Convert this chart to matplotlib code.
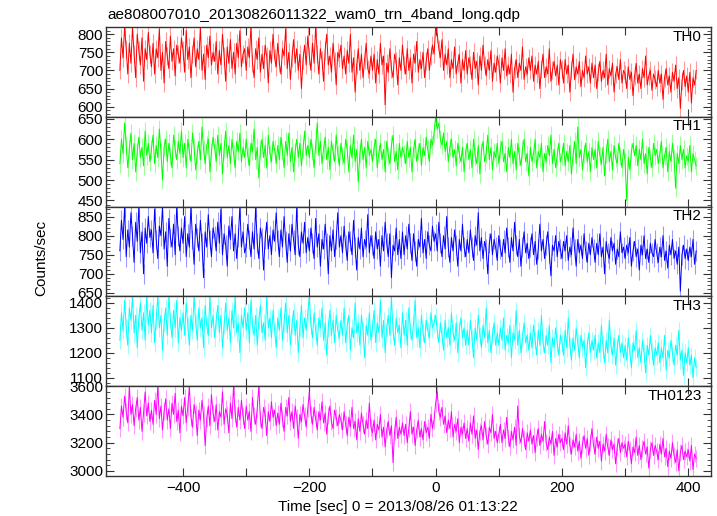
import numpy as np
import matplotlib.pyplot as plt
from matplotlib.ticker import MultipleLocator, AutoMinorLocator

plt.rcParams["font.family"] = ["Liberation Sans", "DejaVu Sans"]

# 2.5 s bins, -500 .. 412.5 s
time = np.arange(-500, 413, 2.5)

th0 = [
    700, 790, 735, 820, 760, 690, 775, 720, 820, 745, 680, 800, 755, 715, 790, 670, 760, 730, 805, 745,
    710, 775, 690, 760, 735, 815, 700, 750, 665, 780, 740, 705, 795, 725, 760, 685, 770, 745, 720, 790,
    755, 695, 810, 730, 765, 680, 745, 790, 710, 760, 730, 820, 700, 745, 675, 770, 735, 795, 715, 750,
    725, 780, 690, 755, 715, 800, 740, 670, 765, 720, 785, 705, 750, 690, 775, 735, 810, 710, 745, 760,
    700, 765, 735, 820, 720, 680, 760, 730, 790, 695, 745, 705, 770, 740, 665, 755, 720, 800, 735, 710,
    775, 720, 690, 760, 740, 815, 705, 750, 675, 735, 785, 720, 760, 700, 745, 650, 730, 770, 715, 795,
    740, 700, 775, 720, 820, 745, 690, 760, 730, 670, 755, 800, 715, 740, 695, 775, 725, 660, 750, 735,
    770, 705, 740, 690, 755, 720, 800, 695, 735, 640, 715, 760, 700, 745, 680, 730, 775, 705, 690, 740,
    700, 745, 665, 730, 690, 775, 715, 740, 605, 720, 695, 760, 705, 680, 745, 725, 660, 735, 700, 770,
    715, 690, 760, 700, 735, 665, 745, 720, 780, 695, 730, 705, 750, 680, 725, 760, 700, 740, 770, 745,
    820, 800, 760, 735, 785, 700, 745, 715, 760, 680, 730, 705, 765, 690, 720, 745, 665, 730, 700, 755,
    690, 735, 715, 675, 750, 705, 725, 660, 740, 700, 770, 715, 685, 730, 700, 755, 670, 720, 695, 740,
    720, 665, 735, 700, 760, 685, 715, 690, 745, 640, 705, 730, 680, 720, 700, 765, 675, 710, 690, 735,
    700, 740, 670, 715, 690, 725, 650, 705, 745, 680, 710, 690, 760, 670, 700, 725, 685, 715, 660, 730,
    705, 665, 730, 690, 715, 640, 700, 745, 675, 710, 690, 725, 655, 700, 680, 740, 690, 710, 665, 720,
    680, 715, 650, 695, 725, 670, 700, 680, 745, 660, 705, 685, 720, 640, 690, 710, 675, 730, 665, 700,
    690, 650, 710, 675, 695, 630, 685, 720, 665, 690, 650, 705, 680, 740, 660, 685, 700, 645, 690, 675,
    655, 700, 665, 690, 620, 680, 705, 660, 685, 640, 695, 670, 715, 650, 680, 595, 670, 700, 655, 685,
    640, 695, 610, 680, 660, 700,
]
th1 = [
    540, 600, 565, 640, 585, 530, 575, 615, 550, 590, 520, 570, 605, 555, 580, 535, 620, 560, 590, 545,
    575, 610, 540, 585, 555, 625, 570, 500, 580, 600, 545, 590, 560, 530, 610, 575, 550, 595, 565, 620,
    555, 590, 530, 600, 570, 545, 615, 580, 525, 565, 595, 550, 630, 575, 540, 585, 600, 520, 570, 605,
    580, 545, 610, 560, 590, 515, 575, 620, 555, 585, 540, 600, 565, 530, 595, 570, 615, 545, 580, 555,
    600, 560, 535, 590, 570, 625, 550, 580, 505, 575, 600, 555, 585, 530, 610, 565, 545, 595, 575, 540,
    585, 550, 605, 570, 530, 595, 560, 615, 545, 580, 520, 570, 600, 555, 590, 535, 575, 620, 560, 585,
    555, 600, 570, 530, 585, 640, 560, 595, 540, 575, 605, 550, 580, 525, 595, 570, 545, 610, 565, 535,
    590, 560, 540, 600, 575, 520, 585, 555, 610, 545, 575, 495, 565, 600, 550, 580, 530, 595, 560, 575,
    545, 580, 600, 530, 565, 590, 550, 575, 520, 595, 560, 540, 585, 610, 545, 570, 525, 590, 555, 580,
    565, 540, 595, 555, 580, 520, 575, 600, 545, 570, 590, 535, 580, 560, 605, 575, 545, 600, 585, 615,
    655, 625, 640, 600, 585, 615, 570, 595, 545, 580, 600, 555, 575, 535, 590, 565, 545, 580, 520, 570,
    590, 550, 575, 530, 600, 560, 540, 585, 515, 570, 595, 545, 565, 610, 550, 580, 525, 570, 555, 590,
    540, 575, 595, 545, 565, 520, 580, 555, 600, 540, 570, 525, 590, 560, 535, 575, 600, 545, 565, 510,
    580, 545, 565, 600, 530, 570, 555, 590, 520, 565, 545, 585, 560, 610, 540, 575, 530, 560, 590, 545,
    560, 590, 535, 570, 545, 585, 515, 560, 595, 540, 630, 555, 575, 525, 565, 590, 545, 570, 520, 580,
    550, 575, 530, 595, 560, 540, 580, 510, 565, 600, 545, 570, 525, 585, 555, 540, 590, 560, 530, 575,
    545, 450, 555, 525, 570, 590, 560, 585, 535, 575, 550, 600, 540, 565, 515, 580, 555, 530, 590, 560,
    575, 540, 565, 595, 530, 560, 580, 520, 570, 545, 590, 555, 480, 565, 540, 585, 550, 575, 530, 560,
    545, 585, 520, 565, 550, 535,
]
th2 = [
    760, 840, 790, 876, 745, 815, 770, 860, 800, 730, 835, 785, 876, 755, 810, 700, 820, 780, 850, 795,
    815, 755, 870, 790, 740, 825, 800, 876, 765, 810, 720, 845, 795, 770, 830, 750, 876, 800, 760, 820,
    780, 850, 745, 805, 770, 876, 790, 725, 830, 795, 760, 840, 780, 690, 810, 770, 855, 790, 745, 820,
    800, 760, 835, 780, 870, 750, 805, 775, 720, 825, 790, 850, 760, 805, 740, 795, 876, 770, 810, 755,
    770, 830, 790, 745, 810, 765, 876, 780, 740, 820, 795, 710, 790, 835, 765, 800, 750, 815, 785, 860,
    790, 745, 815, 770, 850, 785, 730, 805, 760, 830, 790, 750, 876, 775, 745, 810, 780, 835, 755, 795,
    760, 820, 780, 740, 845, 770, 805, 720, 790, 765, 830, 780, 700, 800, 760, 815, 745, 790, 860, 770,
    800, 755, 825, 775, 735, 810, 785, 750, 840, 770, 710, 795, 765, 820, 745, 790, 770, 855, 755, 800,
    775, 740, 810, 765, 790, 720, 800, 760, 835, 780, 745, 805, 690, 775, 760, 820, 750, 790, 740, 810,
    750, 800, 765, 830, 780, 735, 805, 760, 720, 790, 770, 845, 755, 790, 740, 810, 775, 760, 825, 785,
    805, 760, 835, 780, 745, 800, 765, 850, 770, 730, 795, 760, 815, 775, 720, 790, 760, 830, 770, 745,
    790, 755, 815, 770, 735, 800, 775, 860, 760, 795, 740, 785, 765, 700, 780, 805, 750, 790, 770, 735,
    800, 765, 745, 790, 755, 820, 770, 730, 795, 760, 835, 775, 745, 790, 720, 770, 810, 755, 780, 740,
    770, 805, 750, 785, 725, 765, 830, 760, 790, 740, 775, 810, 755, 695, 775, 760, 800, 745, 785, 765,
    740, 785, 760, 800, 735, 770, 750, 820, 765, 720, 790, 755, 775, 740, 805, 760, 730, 780, 750, 795,
    765, 730, 780, 750, 805, 745, 770, 700, 785, 755, 740, 795, 760, 780, 725, 765, 745, 810, 755, 770,
    740, 775, 755, 795, 720, 760, 785, 745, 765, 710, 775, 750, 800, 740, 765, 730, 780, 755, 745, 790,
    755, 730, 770, 745, 800, 735, 760, 715, 775, 750, 790, 740, 760, 725, 770, 655, 750, 775, 740, 765,
    735, 770, 745, 790, 725, 760,
]
th3 = [
    1250, 1360, 1290, 1410, 1300, 1230, 1380, 1330, 1425, 1280, 1350, 1220, 1340, 1400, 1290, 1360, 1250, 1425, 1310, 1370,
    1280, 1390, 1240, 1330, 1425, 1300, 1350, 1210, 1320, 1380, 1270, 1425, 1330, 1260, 1370, 1300, 1410, 1240, 1340, 1290,
    1360, 1270, 1400, 1310, 1230, 1350, 1290, 1425, 1320, 1250, 1380, 1300, 1340, 1220, 1390, 1310, 1270, 1425, 1300, 1350,
    1260, 1330, 1390, 1280, 1350, 1220, 1310, 1400, 1290, 1340, 1240, 1370, 1300, 1425, 1280, 1320, 1200, 1350, 1300, 1380,
    1290, 1360, 1240, 1410, 1310, 1270, 1350, 1230, 1330, 1390, 1280, 1320, 1250, 1425, 1300, 1340, 1260, 1370, 1290, 1220,
    1340, 1290, 1380, 1250, 1320, 1400, 1280, 1350, 1230, 1310, 1370, 1270, 1330, 1200, 1300, 1390, 1260, 1340, 1290, 1360,
    1425, 1310, 1260, 1360, 1290, 1230, 1340, 1300, 1380, 1250, 1320, 1190, 1300, 1370, 1270, 1330, 1240, 1350, 1290, 1260,
    1330, 1270, 1380, 1240, 1310, 1350, 1210, 1300, 1260, 1400, 1280, 1320, 1230, 1350, 1290, 1180, 1310, 1270, 1360, 1250,
    1300, 1370, 1240, 1320, 1280, 1410, 1260, 1330, 1200, 1300, 1350, 1270, 1425, 1290, 1230, 1340, 1280, 1310, 1220, 1360,
    1270, 1330, 1230, 1380, 1290, 1250, 1320, 1410, 1260, 1300, 1220, 1350, 1280, 1240, 1330, 1290, 1260, 1360, 1300, 1320,
    1350, 1290, 1240, 1320, 1270, 1210, 1330, 1260, 1300, 1230, 1360, 1280, 1250, 1320, 1200, 1290, 1340, 1260, 1300, 1230,
    1290, 1230, 1330, 1260, 1180, 1300, 1250, 1350, 1270, 1220, 1310, 1260, 1380, 1240, 1290, 1200, 1270, 1320, 1230, 1280,
    1230, 1300, 1250, 1340, 1210, 1270, 1240, 1310, 1180, 1280, 1250, 1370, 1230, 1290, 1200, 1260, 1320, 1240, 1270, 1210,
    1280, 1220, 1310, 1250, 1190, 1290, 1230, 1350, 1240, 1200, 1270, 1230, 1310, 1160, 1260, 1220, 1300, 1240, 1190, 1270,
    1240, 1190, 1290, 1220, 1340, 1230, 1170, 1260, 1210, 1300, 1240, 1180, 1270, 1220, 1250, 1140, 1230, 1280, 1200, 1250,
    1210, 1270, 1180, 1240, 1200, 1310, 1220, 1160, 1250, 1200, 1330, 1230, 1190, 1260, 1150, 1220, 1270, 1200, 1240, 1180,
    1230, 1170, 1260, 1200, 1140, 1240, 1210, 1290, 1180, 1220, 1160, 1250, 1200, 1120, 1230, 1190, 1270, 1210, 1150, 1220,
    1190, 1240, 1160, 1220, 1180, 1270, 1130, 1210, 1180, 1250, 1200, 1150, 1230, 1190, 1290, 1170, 1210, 1110, 1200, 1160,
    1220, 1150, 1190, 1100, 1180, 1140,
]
th0123 = [
    3300, 3460, 3380, 3530, 3420, 3340, 3600, 3400, 3470, 3320, 3440, 3520, 3360, 3450, 3280, 3410, 3560, 3390, 3480, 3350,
    3430, 3330, 3500, 3400, 3600, 3370, 3460, 3290, 3420, 3510, 3360, 3440, 3300, 3480, 3400, 3550, 3350, 3430, 3270, 3460,
    3390, 3520, 3340, 3450, 3600, 3380, 3310, 3470, 3410, 3250, 3430, 3360, 3500, 3400, 3180, 3370, 3460, 3320, 3540, 3410,
    3350, 3470, 3290, 3420, 3380, 3560, 3330, 3440, 3400, 3270, 3480, 3370, 3600, 3410, 3310, 3450, 3360, 3500, 3390, 3300,
    3460, 3360, 3420, 3280, 3520, 3390, 3330, 3440, 3600, 3370, 3300, 3450, 3400, 3250, 3420, 3350, 3490, 3380, 3430, 3320,
    3410, 3330, 3480, 3370, 3280, 3450, 3390, 3520, 3350, 3420, 3300, 3460, 3380, 3230, 3400, 3350, 3470, 3390, 3310, 3440,
    3560, 3400, 3330, 3450, 3370, 3290, 3420, 3360, 3490, 3340, 3410, 3260, 3390, 3460, 3350, 3300, 3430, 3380, 3320, 3400,
    3360, 3290, 3420, 3330, 3250, 3380, 3310, 3450, 3300, 3350, 3220, 3370, 3280, 3410, 3330, 3260, 3360, 3300, 3480, 3310,
    3270, 3360, 3220, 3330, 3290, 3400, 3240, 3310, 3170, 3290, 3350, 3250, 3320, 3060, 3280, 3380, 3230, 3310, 3260, 3340,
    3250, 3330, 3200, 3300, 3420, 3260, 3310, 3180, 3290, 3360, 3240, 3300, 3220, 3350, 3270, 3310, 3230, 3400, 3300, 3360,
    3480, 3560, 3420, 3380, 3450, 3330, 3390, 3270, 3360, 3300, 3420, 3240, 3330, 3280, 3370, 3200, 3310, 3260, 3340, 3230,
    3300, 3210, 3340, 3260, 3390, 3230, 3290, 3150, 3280, 3320, 3220, 3350, 3250, 3190, 3310, 3270, 3400, 3230, 3280, 3200,
    3260, 3330, 3200, 3290, 3230, 3380, 3240, 3170, 3280, 3220, 3310, 3180, 3460, 3250, 3200, 3300, 3230, 3150, 3270, 3210,
    3290, 3190, 3250, 3130, 3240, 3300, 3180, 3260, 3210, 3350, 3200, 3150, 3240, 3190, 3280, 3110, 3230, 3170, 3260, 3200,
    3230, 3150, 3270, 3190, 3320, 3180, 3120, 3220, 3170, 3260, 3140, 3210, 3090, 3190, 3250, 3160, 3230, 3110, 3200, 3300,
    3180, 3120, 3240, 3160, 3210, 3070, 3190, 3140, 3260, 3170, 3110, 3220, 3150, 3190, 3050, 3170, 3230, 3130, 3200, 3160,
    3190, 3100, 3210, 3150, 3050, 3170, 3130, 3240, 3110, 3180, 3080, 3160, 3210, 3120, 3170, 3020, 3150, 3200, 3110, 3180,
    3140, 3080, 3190, 3120, 3230, 3100, 3160, 3030, 3140, 3090, 3200, 3110, 3060, 3150, 3000, 3130, 3180, 3080, 3140, 3100,
    3150, 3070, 3180, 3010, 3120, 3090,
]

bands = ["TH0", "TH1", "TH2", "TH3", "TH0123"]
series = [th0, th1, th2, th3, th0123]
errors = [25, 22, 26, 35, 60]
colors = ["#ff0000", "#00ff00", "#0000ff", "#00ffff", "#ff00ff"]
ylims = [(572, 820), (435, 655), (641, 876), (1066, 1426), (2964, 3600)]
ysteps = [50, 50, 50, 100, 200]

fig, axes = plt.subplots(5, 1, sharex=True, figsize=(7.17, 5.16), dpi=100)
fig.subplots_adjust(left=0.1478, right=0.9916, top=0.9477, bottom=0.0775, hspace=0)

for ax, name, y, err, c, lim, step in zip(axes, bands, series, errors, colors, ylims, ysteps):
    # error bars (light) and the light curve itself
    ax.errorbar(time, y, yerr=err, fmt="none", ecolor=c, alpha=0.4, elinewidth=0.8)
    ax.plot(time, y, color=c, linewidth=0.7)
    ax.set_ylim(*lim)
    ax.set_xlim(-522, 436)
    ax.yaxis.set_major_locator(MultipleLocator(step))
    ax.yaxis.set_minor_locator(AutoMinorLocator(5))
    ax.xaxis.set_major_locator(MultipleLocator(100))
    ax.tick_params(which="both", direction="in", top=True, right=True, labelsize=11, color="#333333")
    ax.tick_params(which="major", length=6)
    ax.tick_params(which="minor", length=3)
    ax.tick_params(axis="y", pad=2)
    for s in ax.spines.values():
        s.set_linewidth(1.0)
        s.set_color("#333333")
    ax.text(0.985, 0.97, name, transform=ax.transAxes, ha="right", va="top", fontsize=11)

axes[-1].set_xticks([-400, -300, -200, -100, 0, 100, 200, 300, 400])
axes[-1].set_xticklabels(["\u2212400", "", "\u2212200", "", "0", "", "200", "", "400"])

fig.text(107 / 717, 1 - 15 / 516, "ae808007010_20130826011322_wam0_trn_4band_long.qdp",
         ha="left", va="center", fontsize=11)
fig.text(41 / 717, 0.5, "Counts/sec", rotation=90, ha="center", va="center", fontsize=11)
fig.text(398 / 717, 1 - 507 / 516, "Time [sec] 0 = 2013/08/26 01:13:22",
         ha="center", va="center", fontsize=11)

plt.savefig("out.png", dpi=100)
